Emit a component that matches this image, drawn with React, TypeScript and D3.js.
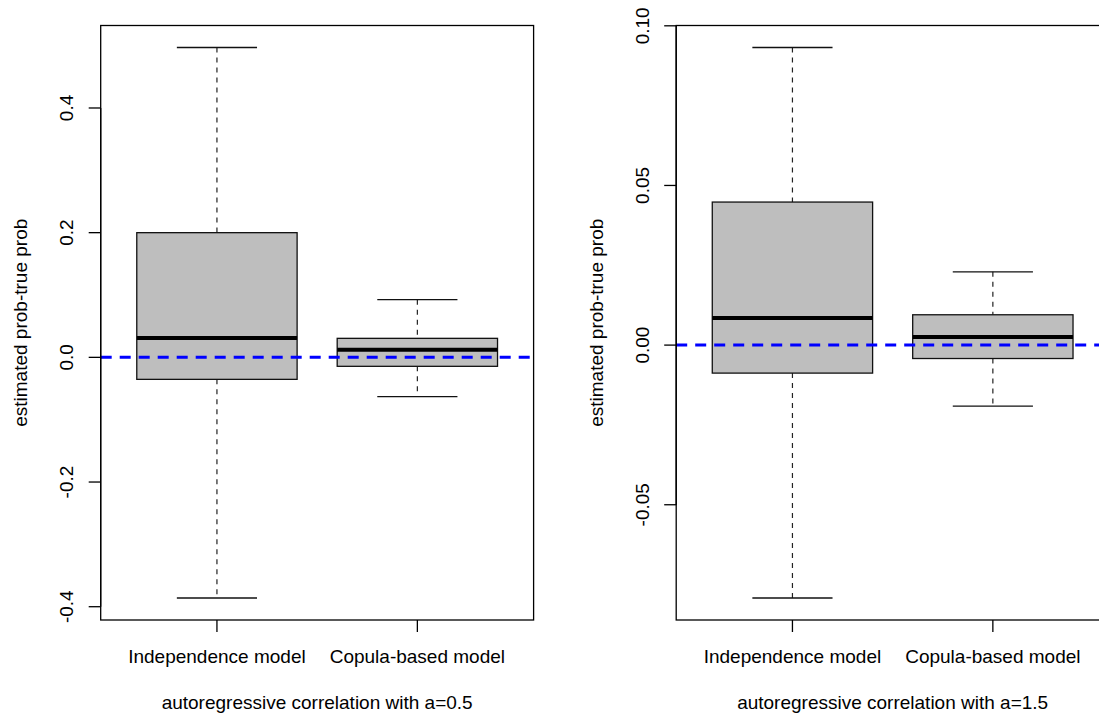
import React from "react";
import * as d3 from "d3";

const categories = ["Independence model", "Copula-based model"];

// panel 1: a = 0.5  [lowerWhisker, Q1, median, Q3, upperWhisker]
const statsA05 = [
  [-0.386, -0.0353, 0.031, 0.2, 0.497],
  [-0.063, -0.0144, 0.0123, 0.0305, 0.0925],
];
const ticksA05 = [-0.4, -0.2, 0.0, 0.2, 0.4];
const tickLabelsA05 = ["-0.4", "-0.2", "0.0", "0.2", "0.4"];

// panel 2: a = 1.5
const statsA15 = [
  [-0.0792, -0.00877, 0.00846, 0.0448, 0.0932],
  [-0.0191, -0.0042, 0.0025, 0.0095, 0.02296],
];
const ticksA15 = [-0.05, 0.0, 0.05, 0.1];
const tickLabelsA15 = ["-0.05", "0.00", "0.05", "0.10"];

const titles = ["autoregressive correlation with a=0.5", "autoregressive correlation with a=1.5"];
const yTitle = "estimated prob-true prob";
const refValue = 0;

const FONT = "'Liberation Sans', Arial, Helvetica, sans-serif";
const FS = 19;

type PanelProps = {
  left: number;
  right: number;
  stats: number[][];
  ticks: number[];
  tickLabels: string[];
  title: string;
};

function Panel({ left, right, stats, ticks, tickLabels, title }: PanelProps) {
  const top = 25.5;
  const bottom = 620;
  const all = stats.flat();
  const lo = d3.min(all) as number;
  const hi = d3.max(all) as number;
  const pad = (hi - lo) * 0.04;
  const y = d3.scaleLinear().domain([lo - pad, hi + pad]).range([bottom, top]);
  const x = d3.scaleLinear().domain([0.42, 2.58]).range([left, right]);
  const clipId = `clip-${Math.round(left)}`;
  const tickLen = 12;
  return (
    <g>
      <defs>
        <clipPath id={clipId}>
          <rect x={left} y={top} width={right - left} height={bottom - top} />
        </clipPath>
      </defs>
      {stats.map((s, i) => {
        const cx = x(i + 1);
        const hw = x(1.4) - x(1);
        const cap = hw / 2;
        return (
          <g key={i}>
            <line x1={cx} x2={cx} y1={y(s[4])} y2={y(s[3])} stroke="#222" strokeWidth={1.2} strokeDasharray="5,5" />
            <line x1={cx} x2={cx} y1={y(s[1])} y2={y(s[0])} stroke="#222" strokeWidth={1.2} strokeDasharray="5,5" />
            <line x1={cx - cap} x2={cx + cap} y1={y(s[4])} y2={y(s[4])} stroke="#111" strokeWidth={1.3} />
            <line x1={cx - cap} x2={cx + cap} y1={y(s[0])} y2={y(s[0])} stroke="#111" strokeWidth={1.3} />
            <rect x={cx - hw} y={y(s[3])} width={2 * hw} height={y(s[1]) - y(s[3])} fill="#BEBEBE" stroke="#111" strokeWidth={1.3} />
            <line x1={cx - hw} x2={cx + hw} y1={y(s[2])} y2={y(s[2])} stroke="#000" strokeWidth={4} />
          </g>
        );
      })}
      <line x1={left} x2={right} y1={y(refValue)} y2={y(refValue)} stroke="#0000FF" strokeWidth={3} strokeDasharray="11,8" clipPath={`url(#${clipId})`} />
      <rect x={left} y={top} width={right - left} height={bottom - top} fill="none" stroke="#000" strokeWidth={1.3} />
      {/* y axis */}
      <line x1={left} x2={left} y1={y(ticks[0])} y2={y(ticks[ticks.length - 1])} stroke="#000" strokeWidth={1.3} />
      {ticks.map((t, i) => (
        <g key={i}>
          <line x1={left - tickLen} x2={left} y1={y(t)} y2={y(t)} stroke="#000" strokeWidth={1.3} />
          <text
            transform={`translate(${left - 34},${y(t)}) rotate(-90)`}
            textAnchor="middle"
            dominantBaseline="central"
            fontFamily={FONT}
            fontSize={FS}
          >
            {tickLabels[i]}
          </text>
        </g>
      ))}
      {/* x axis */}
      {categories.map((c, i) => (
        <g key={c}>
          <line x1={x(i + 1)} x2={x(i + 1)} y1={bottom} y2={bottom + tickLen} stroke="#000" strokeWidth={1.3} />
          <text x={x(i + 1)} y={656} textAnchor="middle" dominantBaseline="central" fontFamily={FONT} fontSize={FS}>
            {c}
          </text>
        </g>
      ))}
      <text x={(x(1) + x(2)) / 2} y={702} textAnchor="middle" dominantBaseline="central" fontFamily={FONT} fontSize={FS}>
        {title}
      </text>
      <text
        transform={`translate(${left - 80},${(top + bottom) / 2}) rotate(-90)`}
        textAnchor="middle"
        dominantBaseline="central"
        fontFamily={FONT}
        fontSize={FS}
      >
        {yTitle}
      </text>
    </g>
  );
}

export default function App() {
  return (
    <svg width={1099} height={715} style={{ position: "absolute", left: 0, top: 0, background: "#fff" }}>
      <rect x={0} y={0} width={1099} height={715} fill="#fff" />
      <Panel left={100.7} right={533.6} stats={statsA05} ticks={ticksA05} tickLabels={tickLabelsA05} title={titles[0]} />
      <Panel left={676.2} right={1109.1} stats={statsA15} ticks={ticksA15} tickLabels={tickLabelsA15} title={titles[1]} />
    </svg>
  );
}
